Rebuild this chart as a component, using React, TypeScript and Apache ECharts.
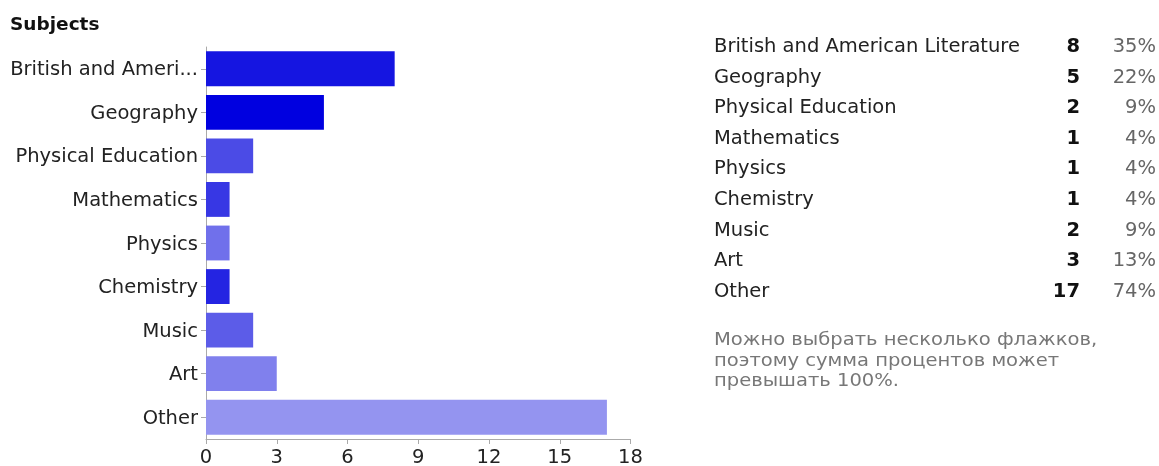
import React, { useEffect, useRef } from "react";
import * as echarts from "echarts";

const categories = [
  "British and American Literature",
  "Geography",
  "Physical Education",
  "Mathematics",
  "Physics",
  "Chemistry",
  "Music",
  "Art",
  "Other",
];
const counts = [8, 5, 2, 1, 1, 1, 2, 3, 17];
const percents = ["35%", "22%", "9%", "4%", "4%", "4%", "9%", "13%", "74%"];
const barColors = [
  "#1515E1",
  "#0000E0",
  "#4B4BE6",
  "#3737E4",
  "#7070EB",
  "#2424E2",
  "#5C5CE8",
  "#8080ED",
  "#9494F0",
];
const xTicks = [0, 3, 6, 9, 12, 15, 18];
const noteLines = [
  "Можно выбрать несколько флажков,",
  "поэтому сумма процентов может",
  "превышать 100%.",
];

const FONT = "'DejaVu Sans', Verdana, sans-serif";
const FS = 19.5;

export default function App() {
  const ref = useRef<HTMLDivElement>(null);
  useEffect(() => {
    if (!ref.current) return;
    const chart = echarts.init(ref.current, undefined, { renderer: "svg" });
    const rowTop = 45.5;
    const rowStep = 30.6;
    const graphic: any[] = [];
    categories.forEach((c, i) => {
      const y = rowTop + i * rowStep;
      graphic.push({
        type: "text",
        x: 714,
        y,
        style: { text: c, font: `${FS}px ${FONT}`, fill: "#222", textVerticalAlign: "middle", textAlign: "left" },
      });
      graphic.push({
        type: "text",
        x: 1080,
        y,
        style: { text: String(counts[i]), font: `bold ${FS}px ${FONT}`, fill: "#111", textVerticalAlign: "middle", textAlign: "right" },
      });
      graphic.push({
        type: "text",
        x: 1156,
        y,
        style: { text: percents[i], font: `${FS}px ${FONT}`, fill: "#666", textVerticalAlign: "middle", textAlign: "right" },
      });
    });
    noteLines.forEach((t, i) => {
      graphic.push({
        type: "text",
        x: 714,
        y: 339 + i * 20.5,
        scaleX: 1.15,
        style: { text: t, font: `17px ${FONT}`, fill: "#777", textVerticalAlign: "middle", textAlign: "left" },
      });
    });

    chart.setOption({
      animation: false,
      title: {
        text: "Subjects",
        left: 5,
        top: 9,
        textStyle: { fontFamily: FONT, fontSize: 18.5, fontWeight: "bold", color: "#111" },
      },
      grid: { left: 206, top: 47, width: 424.5, height: 395.5, containLabel: false },
      xAxis: {
        type: "value",
        min: 0,
        max: 18,
        interval: 3,
        axisLine: { show: true, lineStyle: { color: "#aaa", width: 1 } },
        axisTick: { show: true, length: 5, lineStyle: { color: "#aaa" } },
        splitLine: { show: false },
        axisLabel: {
          margin: 7,
          fontFamily: FONT,
          fontSize: FS,
          color: "#222",
          formatter: (v: number) => (xTicks.includes(v) ? String(v) : ""),
        },
      },
      yAxis: {
        type: "category",
        inverse: true,
        data: categories,
        axisLine: { show: true, lineStyle: { color: "#aaa", width: 1 } },
        axisTick: { show: true, length: 5, alignWithLabel: true, lineStyle: { color: "#aaa" } },
        axisLabel: {
          margin: 8,
          fontFamily: FONT,
          fontSize: FS,
          color: "#222",
          width: 190,
          overflow: "truncate",
          ellipsis: "...",
        },
      },
      series: [
        {
          type: "bar",
          barCategoryGap: "20%",
          data: counts.map((v, i) => ({ value: v, itemStyle: { color: barColors[i] } })),
        },
      ],
      graphic,
    });
    return () => chart.dispose();
  }, []);
  return <div ref={ref} style={{ position: "fixed", left: 0, top: 0, width: 1159, height: 466 }} />;
}
